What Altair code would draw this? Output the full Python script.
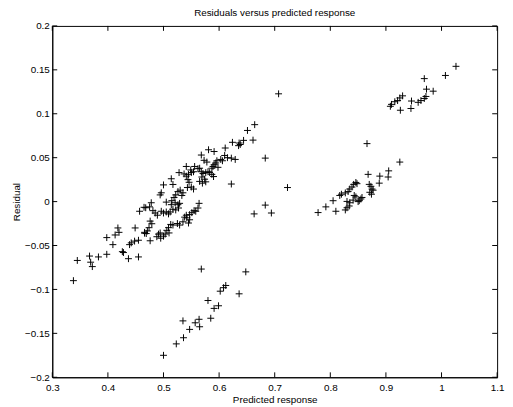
import altair as alt
import pandas as pd

# ---- data (predicted response, residual) ----
low_left_x = [0.338, 0.345, 0.367, 0.369, 0.372, 0.383, 0.398, 0.398, 0.409, 0.413, 0.418, 0.420,
              0.426, 0.428, 0.437, 0.439, 0.442, 0.448, 0.449, 0.455, 0.455, 0.457, 0.465, 0.466]
low_left_y = [-0.090, -0.067, -0.062, -0.069, -0.074, -0.063, -0.060, -0.041, -0.049, -0.038, -0.030, -0.035,
              -0.057, -0.058, -0.065, -0.049, -0.047, -0.045, -0.030, -0.044, -0.063, -0.011, -0.0065, -0.036]

mid_low_x = [0.478, 0.475, 0.468, 0.505, 0.514, 0.521, 0.526, 0.529, 0.564,
             0.481, 0.485, 0.489, 0.496, 0.500, 0.505, 0.509, 0.512, 0.517, 0.522, 0.527,
             0.562, 0.558, 0.555, 0.551, 0.547, 0.541, 0.538, 0.542, 0.547, 0.545,
             0.476, 0.479, 0.474, 0.471, 0.466, 0.469, 0.476,
             0.535, 0.529, 0.525, 0.517, 0.513,
             0.509, 0.506, 0.510, 0.503, 0.500, 0.494, 0.491, 0.495, 0.488]
mid_low_y = [-0.0013, -0.006, -0.007, -0.0006, -0.0035, -0.0013, -0.0035, -0.002, -0.002,
             -0.0103, -0.013, -0.0155, -0.011, -0.013, -0.0118, -0.014, -0.0118, -0.0087, -0.0095, -0.0073,
             -0.0073, -0.011, -0.0103, -0.0126, -0.0148, -0.0155, -0.0177, -0.0185, -0.0207, -0.0244,
             -0.0222, -0.0252, -0.0297, -0.0334, -0.035, -0.0364, -0.0446,
             -0.023, -0.0267, -0.025, -0.0267, -0.026,
             -0.0297, -0.0327, -0.0357, -0.037, -0.0394, -0.0357, -0.037, -0.0417, -0.040]

mid_up_x = [0.624, 0.611, 0.581, 0.591, 0.568, 0.610, 0.615, 0.622, 0.573, 0.578,
            0.596, 0.594, 0.591, 0.589, 0.587, 0.603, 0.606, 0.598,
            0.541, 0.549, 0.556, 0.562, 0.565, 0.528,
            0.537, 0.541, 0.545, 0.550, 0.554,
            0.568, 0.571, 0.576, 0.580, 0.583, 0.587, 0.590, 0.569, 0.574, 0.565, 0.570, 0.576,
            0.514, 0.517, 0.500, 0.544, 0.546, 0.622,
            0.526, 0.530, 0.535, 0.533, 0.522, 0.519, 0.515,
            0.543, 0.550, 0.554, 0.494, 0.496]
mid_up_y = [0.0675, 0.061, 0.059, 0.057, 0.053, 0.0525, 0.050, 0.0495, 0.047, 0.045,
            0.0465, 0.044, 0.042, 0.040, 0.038, 0.048, 0.0465, 0.039,
            0.040, 0.036, 0.040, 0.0375, 0.038, 0.033,
            0.0315, 0.029, 0.031, 0.033, 0.034,
            0.034, 0.032, 0.033, 0.034, 0.033, 0.031, 0.0285, 0.028, 0.0255, 0.023, 0.021, 0.0225,
            0.026, 0.0195, 0.019, 0.025, 0.022, 0.020,
            0.0114, 0.013, 0.010, 0.007, 0.0076, 0.0047, 0.001,
            0.016, 0.0166, 0.0143, 0.0076, 0.010]

mid_right_x = [0.707, 0.664, 0.651, 0.661, 0.644, 0.636, 0.638, 0.635, 0.629,
               0.683, 0.723, 0.683, 0.694, 0.663]
mid_right_y = [0.1227, 0.0876, 0.081, 0.070, 0.0697, 0.0667, 0.065, 0.0637, 0.048,
               0.0495, 0.016, -0.004, -0.013, -0.014]

branch_x = [0.568, 0.648, 0.612, 0.608, 0.602, 0.636, 0.580, 0.599, 0.591, 0.585,
            0.535, 0.564, 0.557, 0.565, 0.547, 0.536, 0.523, 0.500]
branch_y = [-0.0768, -0.080, -0.0955, -0.098, -0.102, -0.105, -0.1126, -0.1186, -0.1216, -0.1328,
            -0.1358, -0.134, -0.138, -0.1425, -0.1455, -0.155, -0.162, -0.175]

right_x = [0.866, 0.925, 0.905, 0.904, 0.889, 0.888, 0.868,
           0.870, 0.873, 0.875, 0.877, 0.871, 0.874,
           0.846, 0.848, 0.842, 0.839, 0.835, 0.832, 0.827, 0.820, 0.817,
           0.805, 0.792, 0.810,
           0.857, 0.855, 0.852, 0.850, 0.846, 0.843, 0.841, 0.835, 0.834, 0.830, 0.830, 0.827,
           0.778]
right_y = [0.066, 0.045, 0.035, 0.028, 0.029, 0.021, 0.031,
           0.0196, 0.0174, 0.0143, 0.013, 0.0106, 0.0084,
           0.0218, 0.0204, 0.0196, 0.0166, 0.0143, 0.0114, 0.0099, 0.0084, 0.007,
           0.001, -0.006, -0.011,
           0.0047, 0.003, 0.001, 0.000, 0.0054, 0.007, 0.0017, -0.0013, -0.005, -0.007, 0.0002, -0.0095,
           -0.0125]

top_right_x = [1.026, 1.007, 0.969, 0.973, 0.985, 0.972, 0.969, 0.963, 0.958, 0.946, 0.945,
               0.926, 0.930, 0.925, 0.921, 0.916, 0.910, 0.908]
top_right_y = [0.154, 0.1436, 0.140, 0.128, 0.1257, 0.1197, 0.1174, 0.115, 0.113, 0.1145, 0.106,
               0.104, 0.1204, 0.118, 0.115, 0.1137, 0.1107, 0.1085]

x_ticks = [0.3, 0.4, 0.5, 0.6, 0.7, 0.8, 0.9, 1.0, 1.1]
y_ticks = [-0.2, -0.15, -0.1, -0.05, 0.0, 0.05, 0.1, 0.15, 0.2]

pred = low_left_x + mid_low_x + mid_up_x + mid_right_x + branch_x + right_x + top_right_x
resid = low_left_y + mid_low_y + mid_up_y + mid_right_y + branch_y + right_y + top_right_y
df = pd.DataFrame({"pred": pred, "resid": resid})
xt = pd.DataFrame({"t": x_ticks})
yt = pd.DataFrame({"t": y_ticks})

W, H = 452, 357
TL = 5
FONT = "Liberation Sans"

xs = alt.Scale(domain=[0.3, 1.1], nice=False, zero=False)
ys = alt.Scale(domain=[-0.2, 0.2], nice=False, zero=False)
x_axis = alt.Axis(values=x_ticks, format=".1~f", title="Predicted response", labelFlush=False,
                  ticks=False, grid=False, labelPadding=5, titlePadding=3)
y_axis = alt.Axis(values=y_ticks, format=".2~f", title="Residual", labelFlush=False,
                  ticks=False, grid=False, labelPadding=3, titlePadding=3)

plus = "M-1,0L1,0M0,-1L0,1"
points = alt.Chart(df).mark_point(
    shape=plus, size=49, filled=False, color="black", strokeWidth=1, opacity=1
).encode(
    x=alt.X("pred:Q", scale=xs, axis=x_axis),
    y=alt.Y("resid:Q", scale=ys, axis=y_axis),
)

bottom_ticks = alt.Chart(xt).mark_rule(color="black", strokeWidth=1).encode(
    x=alt.X("t:Q", scale=xs, axis=x_axis), y=alt.value(H), y2=alt.value(H - TL))
top_ticks = alt.Chart(xt).mark_rule(color="black", strokeWidth=1).encode(
    x=alt.X("t:Q", scale=xs, axis=x_axis), y=alt.value(0), y2=alt.value(TL))
left_ticks = alt.Chart(yt).mark_rule(color="black", strokeWidth=1).encode(
    y=alt.Y("t:Q", scale=ys, axis=y_axis), x=alt.value(0), x2=alt.value(TL))
right_ticks = alt.Chart(yt).mark_rule(color="black", strokeWidth=1).encode(
    y=alt.Y("t:Q", scale=ys, axis=y_axis), x=alt.value(W), x2=alt.value(W - TL))

chart = alt.layer(points, bottom_ticks, top_ticks, left_ticks, right_ticks).properties(
    width=W, height=H,
    title=alt.TitleParams("Residuals versus predicted response", font=FONT, fontSize=10,
                          fontWeight="normal", color="black", offset=3),
    background="white",
    autosize=alt.AutoSizeParams(type="none"),
    padding={"left": 45, "top": 15, "right": 8, "bottom": 27},
).configure_view(
    stroke="black", strokeWidth=1
).configure_axis(
    domainColor="black", domainWidth=1, labelFont=FONT, labelFontSize=10, labelColor="black",
    titleFont=FONT, titleFontSize=10, titleFontWeight="normal", titleColor="black"
)

chart.save("out.html", embed_options={"renderer": "svg", "actions": False})
